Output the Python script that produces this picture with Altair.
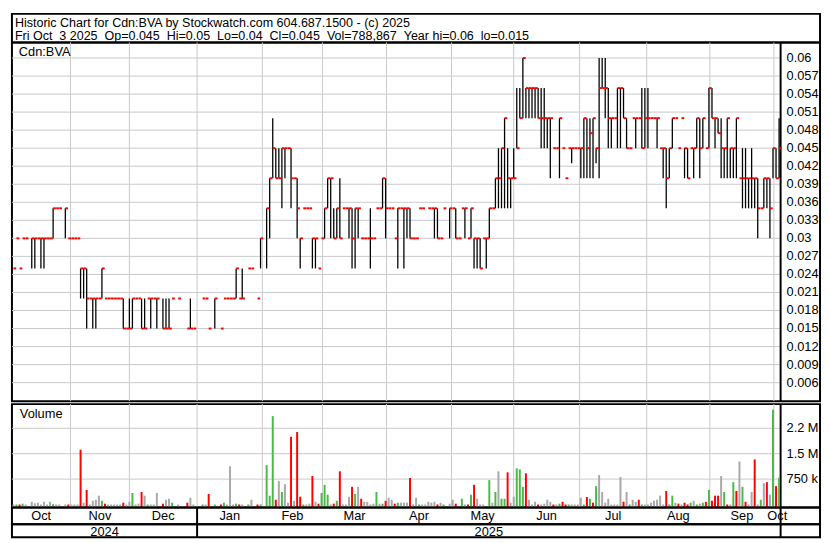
import altair as alt
import pandas as pd

FONT = "Liberation Sans"
RED = "#ff0000"
GREEN = "#4cb848"
GRAY = "#a8a8a8"
GRID = "#c8c8c8"

# ---------------- layout ----------------
W = 820            # panel width incl. right label box
PLOT_W = 780       # width used by the trading days
N_SLOTS = 252      # trading days shown
XMAX = N_SLOTS * W / PLOT_W
LABEL_X = N_SLOTS + 6 * N_SLOTS / PLOT_W   # labels start 6px right of the separator
H_HEAD, H_PRICE, H_GAP, H_VOL, H_MON, H_YEAR = 29, 364, 3, 105, 17, 13

# ---------------- text ----------------
NB = "\u00a0"
header_lines = [
    "Historic Chart for Cdn:BVA by Stockwatch.com 604.687.1500 - (c) 2025",
    "Fri Oct " + NB + "3 2025 " + NB + "Op=0.045 " + NB + "Hi=0.05 " + NB + "Lo=0.04 " + NB
    + "Cl=0.045 " + NB + "Vol=788,867 " + NB + "Year hi=0.06 " + NB + "lo=0.015",
]

# ---------------- daily data (one entry per trading day, None = no trade) ----------------
hi = [
    .025, .03, .025, .03, .03, None, .03, .03, .03, .03,
    .03, .03, .03, .035, .035, .035, None, .035, .03, .03,
    .03, .03, .025, .025, .025, .02, .02, .02, .02, .025,
    .02, .02, .02, .02, .02, .02, .02, .015, .02, .02,
    .02, .02, .02, .02, .02, .02, .02, .02, None, .02,
    .02, .02, .02, None, .02, None, None, .015, .02, .015,
    None, None, .02, .02, .015, None, .02, None, .015, .02,
    .02, .02, .02, .025, .02, .025, None, .025, .025, None,
    .02, .03, None, .035, .04, .05, .045, .045, .045, .045,
    .045, .045, .04, .04, .03, .035, .035, .035, .03, .03,
    .025, .03, .035, .04, .04, .035, .035, .04, .035, .035,
    .035, .035, .035, .035, .03, .03, .03, .035, .03, .035,
    .035, .04, .04, .035, .035, .03, .035, .035, .035, .035,
    .035, .03, .03, .035, .035, None, .035, .035, .035, .035,
    .03, .035, None, .035, .035, .035, .03, .035, .035, .03,
    .035, .03, .03, .03, .03, .03, .035, .035, .04, .045,
    .045, .05, .045, .04, .045, .055, .055, .06, .055, .055,
    .055, .055, .055, .055, .055, .05, .05, .045, .045, .05,
    .045, .04, .045, .045, .045, .045, .045, .05, .05, .05,
    .05, .045, .06, .06, .06, .055, .05, .05, .055, .055,
    .055, .05, .045, .05, .05, .05, .055, .055, .055, .05,
    .05, .05, .045, .045, .045, .045, .05, .05, .045, .05,
    .045, .045, .045, .045, .05, .05, .05, .045, .055, .055,
    .05, .05, .05, .045, .05, .045, .045, .05, .04, .045,
    .045, .04, .045, .04, .04, .035, .04, .04, .04, .045, .045, .05,
]
lo = [
    .025, .03, .025, .03, .03, None, .025, .025, .03, .025,
    .025, .03, .03, .03, .035, .035, None, .03, .03, .03,
    .03, .03, .02, .02, .015, .02, .015, .015, .02, .02,
    .02, .02, .02, .02, .02, .02, .015, .015, .015, .015,
    .02, .02, .015, .015, .02, .015, .02, .015, None, .015,
    .015, .015, .02, None, .02, None, None, .015, .015, .015,
    None, None, .02, .02, .015, None, .015, None, .015, .02,
    .02, .02, .02, .02, .02, .02, None, .025, .025, None,
    .02, .025, None, .025, .03, .04, .04, .04, .035, .04,
    .045, .035, .04, .03, .025, .035, .035, .035, .025, .025,
    .025, .03, .03, .035, .03, .03, .03, .03, .035, .035,
    .03, .025, .025, .03, .03, .03, .03, .025, .03, .035,
    .035, .035, .03, .035, .035, .03, .025, .035, .025, .03,
    .03, .03, .03, .035, .035, None, .035, .035, .03, .03,
    .03, .035, None, .03, .035, .03, .03, .035, .03, .03,
    .03, .025, .025, .025, .03, .025, .03, .035, .035, .035,
    .035, .035, .035, .035, .04, .045, .05, .05, .05, .05,
    .05, .05, .05, .045, .045, .045, .04, .045, .045, .04,
    .045, .04, .045, .0425, .045, .045, .04, .04, .04, .04,
    .04, .0425, .04, .055, .05, .045, .045, .05, .045, .045,
    .05, .045, .045, .05, .045, .05, .045, .045, .045, .05,
    .05, .045, .045, .04, .035, .04, .045, .05, .045, .05,
    .04, .04, .045, .04, .045, .04, .045, .045, .045, .05,
    .045, .0475, .04, .04, .04, .04, .04, .04, .04, .035,
    .035, .035, .035, .035, .03, .035, .035, .035, .03, .04, .04, .04,
]
cl = [
    .025, .03, .025, .03, .03, None, .03, .03, .03, .03,
    .03, .03, .03, .035, .035, .035, None, .035, .03, .03,
    .03, .03, .025, .025, .02, .02, .02, .02, .02, .025,
    .02, .02, .02, .02, .02, .02, .015, .015, .015, .02,
    .02, .02, .015, .015, .02, .02, .02, .02, None, .015,
    .015, .015, .02, None, .02, None, None, .015, .015, .015,
    None, None, .02, .02, .015, None, .02, None, .015, .02,
    .02, .02, .02, .025, .02, .02, None, .025, .025, None,
    .02, .03, None, .035, .04, .045, .04, .04, .045, .045,
    .045, .04, .04, .035, .03, .035, .035, .035, .03, .03,
    .025, .03, .035, .04, .04, .03, .035, .03, .035, .035,
    .035, .03, .035, .035, .03, .03, .03, .03, .03, .035,
    .035, .04, .035, .035, .035, .03, .035, .035, .035, .035,
    .03, .03, .03, .035, .035, None, .035, .035, .035, .03,
    .03, .035, None, .035, .035, .03, .03, .035, .035, .03,
    .035, .03, .03, .025, .03, .03, .035, .035, .04, .04,
    .045, .05, .04, .04, .04, .045, .05, .06, .055, .055,
    .055, .055, .05, .05, .05, .05, .05, .045, .045, .05,
    .045, .04, .045, .045, .045, .045, .045, .05, .045, .0475,
    .05, .045, .055, .055, .055, .05, .05, .05, .055, .055,
    .05, .045, .045, .05, .05, .05, .045, .05, .05, .05,
    .05, .05, .045, .045, .04, .045, .05, .05, .045, .05,
    .045, .04, .045, .045, .05, .045, .05, .045, .055, .05,
    .05, .0475, .045, .045, .05, .045, .045, .05, .04, .04,
    .04, .04, .04, .04, .035, .035, .04, .04, .035, .045, .04, .045,
]
# volume in millions of shares, and direction of the close (u = up, d = down, n = unchanged)
vol = [
    0, 0, 0, .024, 0, None, .08, .034, .053, 0,
    .08, 0, .08, .01, 0, 0, None, 0, 0, 0,
    0, 0, 1.62, .053, .43, 0, .11, .14, .26, .11,
    .024, 0, 0, 0, 0, 0, .053, 0, .08, .34,
    0, .024, .37, .26, 0, 0, 0, .34, None, .024,
    .14, .17, .053, None, 0, None, None, .053, .2, 0,
    None, None, 0, 0, .31, None, 0, None, 0, .053,
    0, 1.13, 0, .024, 0, 0, None, 0, .14, None,
    0, 0, None, 1.16, .26, 2.61, .14, .69, .37, .6,
    .053, 2.0, .11, 2.14, .23, 0, 0, .024, .84, .08,
    .024, .34, .58, .29, 0, .024, .11, .98, 0, 0,
    .23, .52, .31, .52, .17, .08, .08, 0, .024, .37,
    .024, .024, .11, .2, .14, .024, .053, .053, .053, .053,
    .78, 0, .2, 0, 0, 0, .08, .053, .08, 0,
    .053, 0, None, .024, .14, .024, None, .17, 0, 0,
    .29, .58, .17, 0, 0, None, .72, .053, .37, .98,
    .17, .17, .95, .053, .23, 1.07, 1.04, .52, .92, .14,
    0, .08, 0, 0, .024, .14, .08, 0, 0, .024,
    .08, 0, 0, 0, 0, 0, .2, 0, .22, .17,
    .053, .54, .87, .37, .053, .17, 0, 0, 0, .81,
    .08, .37, 0, .14, .08, .14, 0, 0, 0, .053,
    .11, .14, .26, 0, .40, 0, .26, .053, .024, 0,
    .053, 0, .053, .11, 0, .024, .053, .08, .43, .11,
    .26, .26, .84, .37, 0, 0, .66, .40, 1.27, .52,
    .08, 0, .37, 1.33, 0, .14, .63, .66, .29, 2.8, .54, .79,
]
vol_dir = [
    "n", "u", "d", "u", "n", None, "n", "n", "n", "n",
    "n", "n", "n", "u", "n", "n", None, "n", "d", "n",
    "n", "n", "d", "n", "d", "n", "n", "n", "n", "u",
    "d", "n", "n", "n", "n", "n", "d", "n", "n", "u",
    "n", "n", "d", "n", "u", "n", "n", "n", None, "d",
    "n", "n", "u", None, "n", None, None, "d", "n", "n",
    None, None, "u", "n", "d", None, "u", None, "d", "u",
    "n", "n", "n", "u", "d", "n", None, "u", "n", None,
    "d", "u", None, "u", "u", "u", "d", "n", "u", "n",
    "n", "d", "n", "d", "d", "u", "n", "n", "d", "n",
    "d", "u", "u", "u", "n", "d", "u", "d", "n", "n",
    "n", "d", "u", "n", "d", "n", "n", "n", "n", "u",
    "n", "u", "d", "n", "n", "d", "u", "n", "n", "n",
    "d", "n", "n", "u", "n", "n", "n", "n", "n", "d",
    "n", "u", None, "n", "n", "d", None, "u", "n", "d",
    "u", "d", "n", "n", "n", None, "u", "n", "u", "n",
    "u", "u", "d", "n", "n", "u", "u", "u", "d", "n",
    "n", "n", "d", "n", "n", "n", "n", "d", "n", "u",
    "d", "d", "u", "n", "n", "n", "n", "u", "d", "u",
    "d", "u", "n", "n", "n", "n", "n", "n", "n", "n",
    "d", "n", "u", "n", "n", "d", "u", "n", "n", "n",
    "n", "n", "n", "n", "d", "u", "u", "n", "d", "n",
    "d", "d", "u", "n", "u", "n", "u", "d", "u", "d",
    "d", "d", "n", "u", "d", "n", "u", "d", "n", "u",
    "d", "n", "n", "d", "n", "u", "n", "d", "n", "u", "d", "u",
]

# ---------------- axis values ----------------
price_ticks = [0.006, 0.009, 0.012, 0.015, 0.018, 0.021, 0.024, 0.027, 0.03, 0.033,
               0.036, 0.039, 0.042, 0.045, 0.048, 0.051, 0.054, 0.057, 0.06]
price_domain = [0.00292, 0.06259]
vol_ticks = [0.75, 1.5, 2.25]
vol_tick_labels = ["750 k", "1.5 M", "2.2 M"]
vol_domain = [-0.092, 2.965]
month_names = ["Oct", "Nov", "Dec", "Jan", "Feb", "Mar", "Apr", "May", "Jun", "Jul", "Aug", "Sep", "Oct"]
month_starts = [0, 19.2, 38.5, 60.7, 82.1, 101.8, 122.8, 144.1, 164.5, 186.1, 208.1, 228.8, 249.8]
year_names = ["2024", "2025"]
year_starts = [0, 60.7]

# ---------------- frames ----------------
days = pd.DataFrame({"hi": hi, "lo": lo, "cl": cl, "vol": vol, "dir": vol_dir})
days["xc"] = days.index + 0.5
days["xe"] = days.index + 1.4
px = days.dropna(subset=["cl"]).copy()
ranges = px[px["hi"] > px["lo"]]
vx = days.dropna(subset=["vol"]).copy()
vx["base"] = vol_domain[0]

mstarts = pd.DataFrame({"m": month_starts[1:]})
ends = month_starts[1:] + [N_SLOTS]
months = pd.DataFrame({"name": month_names, "mid": [(a + b) / 2 for a, b in zip(month_starts, ends)]})
yends = year_starts[1:] + [N_SLOTS]
years = pd.DataFrame({"name": year_names, "mid": [(a + b) / 2 for a, b in zip(year_starts, yends)]})
seps = pd.DataFrame({"s": year_starts[1:] + [N_SLOTS]})
right_edge = pd.DataFrame({"s": [N_SLOTS]})

xs = alt.Scale(domain=[0, XMAX], nice=False, zero=False)


def X(field):
    return alt.X(field, type="quantitative", scale=xs, axis=None, title=None)


def text_layer(df, size=13, **kw):
    return alt.Chart(df).mark_text(font=FONT, fontSize=size, color="black", **kw)


# ---------------- header ----------------
head = text_layer(pd.DataFrame({"line": [0, 1], "t": header_lines}), size=12.7,
                  align="left", baseline="alphabetic").encode(
    x=alt.value(3),
    y=alt.Y("line:Q", scale=alt.Scale(domain=[0, 1], range=[13, 26.5]), axis=None),
    text="t:N",
).properties(width=W, height=H_HEAD)

# ---------------- price panel ----------------
ys = alt.Scale(domain=price_domain, nice=False, zero=False)
pgrid_df = pd.DataFrame({"v": price_ticks, "x0": 0, "x1": N_SLOTS, "lx": LABEL_X,
                         "lab": [f"{v:g}" for v in price_ticks]})
pgrid = alt.Chart(pgrid_df).mark_rule(color=GRID, strokeWidth=1).encode(
    y=alt.Y("v:Q", scale=ys, axis=None), x=X("x0"), x2="x1:Q")
plabels = text_layer(pgrid_df, align="left", baseline="middle").encode(
    x=X("lx"), y=alt.Y("v:Q", scale=ys, axis=None), text="lab:N")
pvgrid = alt.Chart(mstarts).mark_rule(color=GRID, strokeWidth=1).encode(
    x=X("m"), y=alt.value(0), y2=alt.value(H_PRICE))
pedge = alt.Chart(right_edge).mark_rule(color="black", strokeWidth=2).encode(
    x=X("s"), y=alt.value(0), y2=alt.value(H_PRICE))
plabel = text_layer(pd.DataFrame({"t": ["Cdn:BVA"]}), align="left", baseline="middle").encode(
    x=alt.value(7), y=alt.value(10), text="t:N")
hl = alt.Chart(ranges).mark_rule(color="black", strokeWidth=1.3).encode(
    x=X("xc"), y=alt.Y("lo:Q", scale=ys, axis=None), y2="hi:Q")
close = alt.Chart(px).mark_rule(color=RED, strokeWidth=2).encode(
    x=X("xc"), x2="xe:Q", y=alt.Y("cl:Q", scale=ys, axis=None))
price = alt.layer(pgrid, pvgrid, pedge, plabels, plabel, hl, close).properties(width=W, height=H_PRICE)

# thin blank strip that gives the double rule between the two panels
gap = alt.Chart(pd.DataFrame({"a": [0]})).mark_point(opacity=0).encode(
    x=alt.value(0), y=alt.value(0)
).properties(width=W, height=H_GAP, view=alt.ViewBackground(stroke="transparent", strokeWidth=0))

# ---------------- volume panel ----------------
vs = alt.Scale(domain=vol_domain, nice=False, zero=False)
vgrid_df = pd.DataFrame({"v": vol_ticks, "x0": 0, "x1": N_SLOTS, "lx": LABEL_X, "lab": vol_tick_labels})
vgrid = alt.Chart(vgrid_df).mark_rule(color=GRID, strokeWidth=1).encode(
    y=alt.Y("v:Q", scale=vs, axis=None), x=X("x0"), x2="x1:Q")
vlabels = text_layer(vgrid_df, align="left", baseline="middle").encode(
    x=X("lx"), y=alt.Y("v:Q", scale=vs, axis=None), text="lab:N")
vvgrid = alt.Chart(mstarts).mark_rule(color=GRID, strokeWidth=1).encode(
    x=X("m"), y=alt.value(0), y2=alt.value(H_VOL))
vedge = alt.Chart(right_edge).mark_rule(color="black", strokeWidth=2).encode(
    x=X("s"), y=alt.value(0), y2=alt.value(H_VOL))
vlabel = text_layer(pd.DataFrame({"t": ["Volume"]}), align="left", baseline="middle").encode(
    x=alt.value(8), y=alt.value(10), text="t:N")
vbars = alt.Chart(vx).mark_rule(strokeWidth=2).encode(
    x=X("xc"),
    y=alt.Y("vol:Q", scale=vs, axis=None), y2="base:Q",
    color=alt.Color("dir:N", scale=alt.Scale(domain=["u", "d", "n"], range=[GREEN, RED, GRAY]), legend=None),
)
volume = alt.layer(vgrid, vvgrid, vedge, vlabels, vlabel, vbars).properties(width=W, height=H_VOL)

# ---------------- month and year rows ----------------
mtext = text_layer(months, baseline="alphabetic").encode(x=X("mid"), y=alt.value(13), text="name:N")
msep = alt.Chart(seps).mark_rule(color="black", strokeWidth=2).encode(
    x=X("s"), y=alt.value(0), y2=alt.value(H_MON))
mrow = alt.layer(mtext, msep).properties(width=W, height=H_MON)

ytext = text_layer(years, baseline="alphabetic").encode(x=X("mid"), y=alt.value(11.5), text="name:N")
ysep = alt.Chart(seps).mark_rule(color="black", strokeWidth=2).encode(
    x=X("s"), y=alt.value(0), y2=alt.value(H_YEAR))
yrow = alt.layer(ytext, ysep).properties(width=W, height=H_YEAR)

chart = alt.vconcat(
    head, price, gap, volume, mrow, yrow,
    spacing=0,
    bounds="flush",
).properties(
    padding={"left": 1, "right": 1, "top": 1, "bottom": 1},
    background="white",
).configure_view(stroke="black", strokeWidth=2)

chart.save("out.html", embed_options={"renderer": "svg", "actions": False})
